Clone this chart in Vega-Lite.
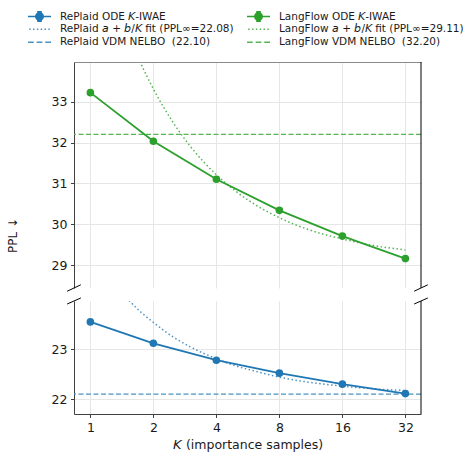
{
  "$schema": "https://vega.github.io/schema/vega-lite/v6.json",
  "padding": {"left": 6, "top": 10, "right": 5, "bottom": 5},
  "bounds": "flush",
  "spacing": 13,
  "config": {
    "font": "DejaVu Sans",
    "view": {"stroke": null},
    "axis": {
      "labelFont": "DejaVu Sans",
      "labelFontSize": 12.5,
      "labelColor": "#1a1a1a",
      "titleFont": "DejaVu Sans",
      "titleFontSize": 12.5,
      "titleFontWeight": "normal",
      "titleColor": "#1a1a1a",
      "domainColor": "#404040",
      "domainWidth": 1,
      "tickColor": "#404040",
      "tickSize": 3.5,
      "labelPadding": 3.5,
      "gridColor": "#e6e6e6",
      "gridWidth": 1
    },
    "legend": {
      "labelFont": "DejaVu Sans",
      "labelFontSize": 10.5,
      "labelColor": "#1a1a1a",
      "labelLimit": 400
    }
  },
  "datasets": {
    "ode": [
      {"model": "RePlaid", "series": "RePlaid ODE 𝘒-IWAE", "K": 1, "PPL": 23.55},
      {"model": "RePlaid", "series": "RePlaid ODE 𝘒-IWAE", "K": 2, "PPL": 23.12},
      {"model": "RePlaid", "series": "RePlaid ODE 𝘒-IWAE", "K": 4, "PPL": 22.78},
      {"model": "RePlaid", "series": "RePlaid ODE 𝘒-IWAE", "K": 8, "PPL": 22.52},
      {"model": "RePlaid", "series": "RePlaid ODE 𝘒-IWAE", "K": 16, "PPL": 22.3},
      {"model": "RePlaid", "series": "RePlaid ODE 𝘒-IWAE", "K": 32, "PPL": 22.11},
      {"model": "LangFlow", "series": "LangFlow ODE 𝘒-IWAE", "K": 1, "PPL": 33.22},
      {"model": "LangFlow", "series": "LangFlow ODE 𝘒-IWAE", "K": 2, "PPL": 32.03},
      {"model": "LangFlow", "series": "LangFlow ODE 𝘒-IWAE", "K": 4, "PPL": 31.1},
      {"model": "LangFlow", "series": "LangFlow ODE 𝘒-IWAE", "K": 8, "PPL": 30.34},
      {"model": "LangFlow", "series": "LangFlow ODE 𝘒-IWAE", "K": 16, "PPL": 29.71},
      {"model": "LangFlow", "series": "LangFlow ODE 𝘒-IWAE", "K": 32, "PPL": 29.16}
    ],
    "fit": [
      {"model": "LangFlow", "K": 1.5, "PPL": 34.71},
      {"model": "LangFlow", "K": 1.75, "PPL": 33.91},
      {"model": "LangFlow", "K": 2, "PPL": 33.31},
      {"model": "LangFlow", "K": 2.5, "PPL": 32.47},
      {"model": "LangFlow", "K": 3, "PPL": 31.91},
      {"model": "LangFlow", "K": 4, "PPL": 31.21},
      {"model": "LangFlow", "K": 5, "PPL": 30.79},
      {"model": "LangFlow", "K": 6, "PPL": 30.51},
      {"model": "LangFlow", "K": 8, "PPL": 30.16},
      {"model": "LangFlow", "K": 11, "PPL": 29.87},
      {"model": "LangFlow", "K": 16, "PPL": 29.64},
      {"model": "LangFlow", "K": 22, "PPL": 29.49},
      {"model": "LangFlow", "K": 32, "PPL": 29.37},
      {"model": "RePlaid", "K": 1.25, "PPL": 24.41},
      {"model": "RePlaid", "K": 1.5, "PPL": 24.02},
      {"model": "RePlaid", "K": 1.75, "PPL": 23.74},
      {"model": "RePlaid", "K": 2, "PPL": 23.54},
      {"model": "RePlaid", "K": 2.5, "PPL": 23.24},
      {"model": "RePlaid", "K": 3, "PPL": 23.05},
      {"model": "RePlaid", "K": 4, "PPL": 22.81},
      {"model": "RePlaid", "K": 5, "PPL": 22.66},
      {"model": "RePlaid", "K": 6, "PPL": 22.57},
      {"model": "RePlaid", "K": 8, "PPL": 22.44},
      {"model": "RePlaid", "K": 11, "PPL": 22.34},
      {"model": "RePlaid", "K": 16, "PPL": 22.26},
      {"model": "RePlaid", "K": 22, "PPL": 22.21},
      {"model": "RePlaid", "K": 32, "PPL": 22.17}
    ],
    "keys": [
      {"series": "RePlaid ODE 𝘒-IWAE"},
      {"series": "LangFlow ODE 𝘒-IWAE"},
      {"series": "RePlaid 𝘢 + 𝘣/𝘒 fit (PPL∞=22.08)"},
      {"series": "LangFlow 𝘢 + 𝘣/𝘒 fit (PPL∞=29.11)"},
      {"series": "RePlaid VDM NELBO \u00a0(22.10)"},
      {"series": "LangFlow VDM NELBO \u00a0(32.20)"}
    ],
    "one": [{}]
  },
  "vconcat": [
    {
      "width": 347,
      "height": 226,
      "layer": [
        {
          "data": {"name": "keys"},
          "mark": {"type": "point", "filled": true, "opacity": 0},
          "encoding": {
            "color": {
              "field": "series",
              "type": "nominal",
              "scale": {
                "domain": ["RePlaid ODE 𝘒-IWAE", "LangFlow ODE 𝘒-IWAE", "RePlaid 𝘢 + 𝘣/𝘒 fit (PPL∞=22.08)", "LangFlow 𝘢 + 𝘣/𝘒 fit (PPL∞=29.11)", "RePlaid VDM NELBO \u00a0(22.10)", "LangFlow VDM NELBO \u00a0(32.20)"],
                "range": ["#1f77b4", "#2ca02c", "#4c92c3", "#56b356", "#4c92c3", "#56b356"]
              },
              "legend": {
                "title": null,
                "orient": "none",
                "legendX": -47,
                "legendY": -52,
                "direction": "horizontal",
                "columns": 2,
                "columnPadding": 12,
                "rowPadding": 0,
                "clipHeight": 12.6,
                "symbolSize": 529,
                "symbolStrokeWidth": 1.5,
                "labelOffset": 8,
                "encode": {
                  "symbols": {
                    "update": {
                      "fill": {"scale": "color", "field": "value"},
                      "stroke": {"scale": "color", "field": "value"},
                      "opacity": {"value": 1}
                    }
                  }
                }
              }
            },
            "shape": {
              "field": "series",
              "type": "nominal",
              "scale": {
                "domain": ["RePlaid ODE 𝘒-IWAE", "LangFlow ODE 𝘒-IWAE", "RePlaid 𝘢 + 𝘣/𝘒 fit (PPL∞=22.08)", "LangFlow 𝘢 + 𝘣/𝘒 fit (PPL∞=29.11)", "RePlaid VDM NELBO \u00a0(22.10)", "LangFlow VDM NELBO \u00a0(32.20)"],
                "range": [
                  "M-1,0H1M0,-0.42V0.42M-0.2,-0.42H0.2M-0.2,0.42H0.2M0.33,0L0.286,0.165L0.165,0.286L0,0.33L-0.165,0.286L-0.286,0.165L-0.33,0L-0.286,-0.165L-0.165,-0.286L0,-0.33L0.165,-0.286L0.286,-0.165Z",
                  "M-1,0H1M0,-0.42V0.42M-0.2,-0.42H0.2M-0.2,0.42H0.2M0.33,0L0.286,0.165L0.165,0.286L0,0.33L-0.165,0.286L-0.286,0.165L-0.33,0L-0.286,-0.165L-0.165,-0.286L0,-0.33L0.165,-0.286L0.286,-0.165Z",
                  "M-0.9,0H-0.77M-0.567,0H-0.437M-0.233,0H-0.103M0.1,0H0.23M0.433,0H0.563M0.767,0H0.897",
                  "M-0.9,0H-0.77M-0.567,0H-0.437M-0.233,0H-0.103M0.1,0H0.23M0.433,0H0.563M0.767,0H0.897",
                  "M-1,0H-0.5M-0.25,0H0.25M0.5,0H1",
                  "M-1,0H-0.5M-0.25,0H0.25M0.5,0H1"
                ]
              }
            }
          }
        },
        {
          "data": {"name": "one"},
          "mark": {"type": "rule", "color": "#56b356", "strokeWidth": 1.2, "strokeDash": [5, 2.5]},
          "encoding": {"y": {"datum": 32.2, "type": "quantitative"}}
        },
        {
          "data": {"name": "fit"},
          "transform": [{"filter": "datum.model === 'LangFlow'"}],
          "mark": {"type": "line", "color": "#56b356", "strokeWidth": 1.5, "strokeDash": [1.5, 2.5], "interpolate": "monotone", "clip": true},
          "encoding": {
            "x": {"field": "K", "type": "quantitative"},
            "y": {"field": "PPL", "type": "quantitative"}
          }
        },
        {
          "data": {"name": "ode"},
          "transform": [{"filter": "datum.model === 'LangFlow'"}],
          "mark": {"type": "line", "color": "#2ca02c", "strokeWidth": 1.8},
          "encoding": {
            "x": {
              "field": "K",
              "type": "quantitative",
              "scale": {"type": "log", "base": 2, "domain": [0.835, 38], "nice": false},
              "axis": {"orient": "top", "title": null, "labels": false, "ticks": false, "domain": true, "domainColor": "#8a8a8a", "grid": true, "values": [1, 2, 4, 8, 16, 32]}
            },
            "y": {
              "field": "PPL",
              "type": "quantitative",
              "scale": {"domain": [28.44, 33.97], "nice": false, "zero": false},
              "axis": {"values": [29, 30, 31, 32, 33], "grid": true, "title": "PPL ↓", "titleFontSize": 12, "titleAngle": 270, "titleAlign": "center", "titleBaseline": "middle", "titleX": -62, "titleY": 173}
            }
          }
        },
        {
          "data": {"name": "ode"},
          "transform": [{"filter": "datum.model === 'LangFlow'"}],
          "mark": {"type": "circle", "color": "#2ca02c", "size": 58, "opacity": 1},
          "encoding": {
            "x": {"field": "K", "type": "quantitative"},
            "y": {"field": "PPL", "type": "quantitative"}
          }
        },
        {
          "data": {"name": "one"},
          "mark": {"type": "rule", "color": "#000000", "strokeWidth": 1},
          "encoding": {"x": {"datum": 38, "type": "quantitative"}}
        },
        {
          "data": {"name": "one"},
          "mark": {"type": "point", "shape": "M-1,0.47L1,-0.47", "size": 188, "filled": false, "color": "#000000", "strokeWidth": 1, "opacity": 1},
          "encoding": {"x": {"datum": 0.835, "type": "quantitative"}, "y": {"datum": 28.44, "type": "quantitative"}}
        },
        {
          "data": {"name": "one"},
          "mark": {"type": "point", "shape": "M-1,0.47L1,-0.47", "size": 188, "filled": false, "color": "#000000", "strokeWidth": 1, "opacity": 1},
          "encoding": {"x": {"datum": 38, "type": "quantitative"}, "y": {"datum": 28.44, "type": "quantitative"}}
        }
      ]
    },
    {
      "width": 347,
      "height": 113,
      "layer": [
        {
          "data": {"name": "one"},
          "mark": {"type": "rule", "color": "#4c92c3", "strokeWidth": 1.2, "strokeDash": [5, 2.5]},
          "encoding": {"y": {"datum": 22.1, "type": "quantitative"}}
        },
        {
          "data": {"name": "fit"},
          "transform": [{"filter": "datum.model === 'RePlaid'"}],
          "mark": {"type": "line", "color": "#4c92c3", "strokeWidth": 1.5, "strokeDash": [1.5, 2.5], "interpolate": "monotone", "clip": true},
          "encoding": {
            "x": {"field": "K", "type": "quantitative"},
            "y": {"field": "PPL", "type": "quantitative"}
          }
        },
        {
          "data": {"name": "ode"},
          "transform": [{"filter": "datum.model === 'RePlaid'"}],
          "mark": {"type": "line", "color": "#1f77b4", "strokeWidth": 1.8},
          "encoding": {
            "x": {
              "field": "K",
              "type": "quantitative",
              "scale": {"type": "log", "base": 2, "domain": [0.835, 38], "nice": false},
              "axis": {"title": "𝘒 (importance samples)", "values": [1, 2, 4, 8, 16, 32], "format": "d", "grid": true, "titlePadding": 5}
            },
            "y": {
              "field": "PPL",
              "type": "quantitative",
              "scale": {"domain": [21.7, 23.97], "nice": false, "zero": false},
              "axis": {"values": [22, 23], "grid": true, "title": null}
            }
          }
        },
        {
          "data": {"name": "ode"},
          "transform": [{"filter": "datum.model === 'RePlaid'"}],
          "mark": {"type": "circle", "color": "#1f77b4", "size": 58, "opacity": 1},
          "encoding": {
            "x": {"field": "K", "type": "quantitative"},
            "y": {"field": "PPL", "type": "quantitative"}
          }
        },
        {
          "data": {"name": "one"},
          "mark": {"type": "rule", "color": "#000000", "strokeWidth": 1},
          "encoding": {"x": {"datum": 38, "type": "quantitative"}}
        },
        {
          "data": {"name": "one"},
          "mark": {"type": "point", "shape": "M-1,0.44L1,-0.44", "size": 188, "filled": false, "color": "#000000", "strokeWidth": 1, "opacity": 1},
          "encoding": {"x": {"datum": 0.835, "type": "quantitative"}, "y": {"datum": 23.97, "type": "quantitative"}}
        },
        {
          "data": {"name": "one"},
          "mark": {"type": "point", "shape": "M-1,0.44L1,-0.44", "size": 188, "filled": false, "color": "#000000", "strokeWidth": 1, "opacity": 1},
          "encoding": {"x": {"datum": 38, "type": "quantitative"}, "y": {"datum": 23.97, "type": "quantitative"}}
        }
      ]
    }
  ],
  "resolve": {"scale": {"x": "independent", "y": "independent"}}
}
